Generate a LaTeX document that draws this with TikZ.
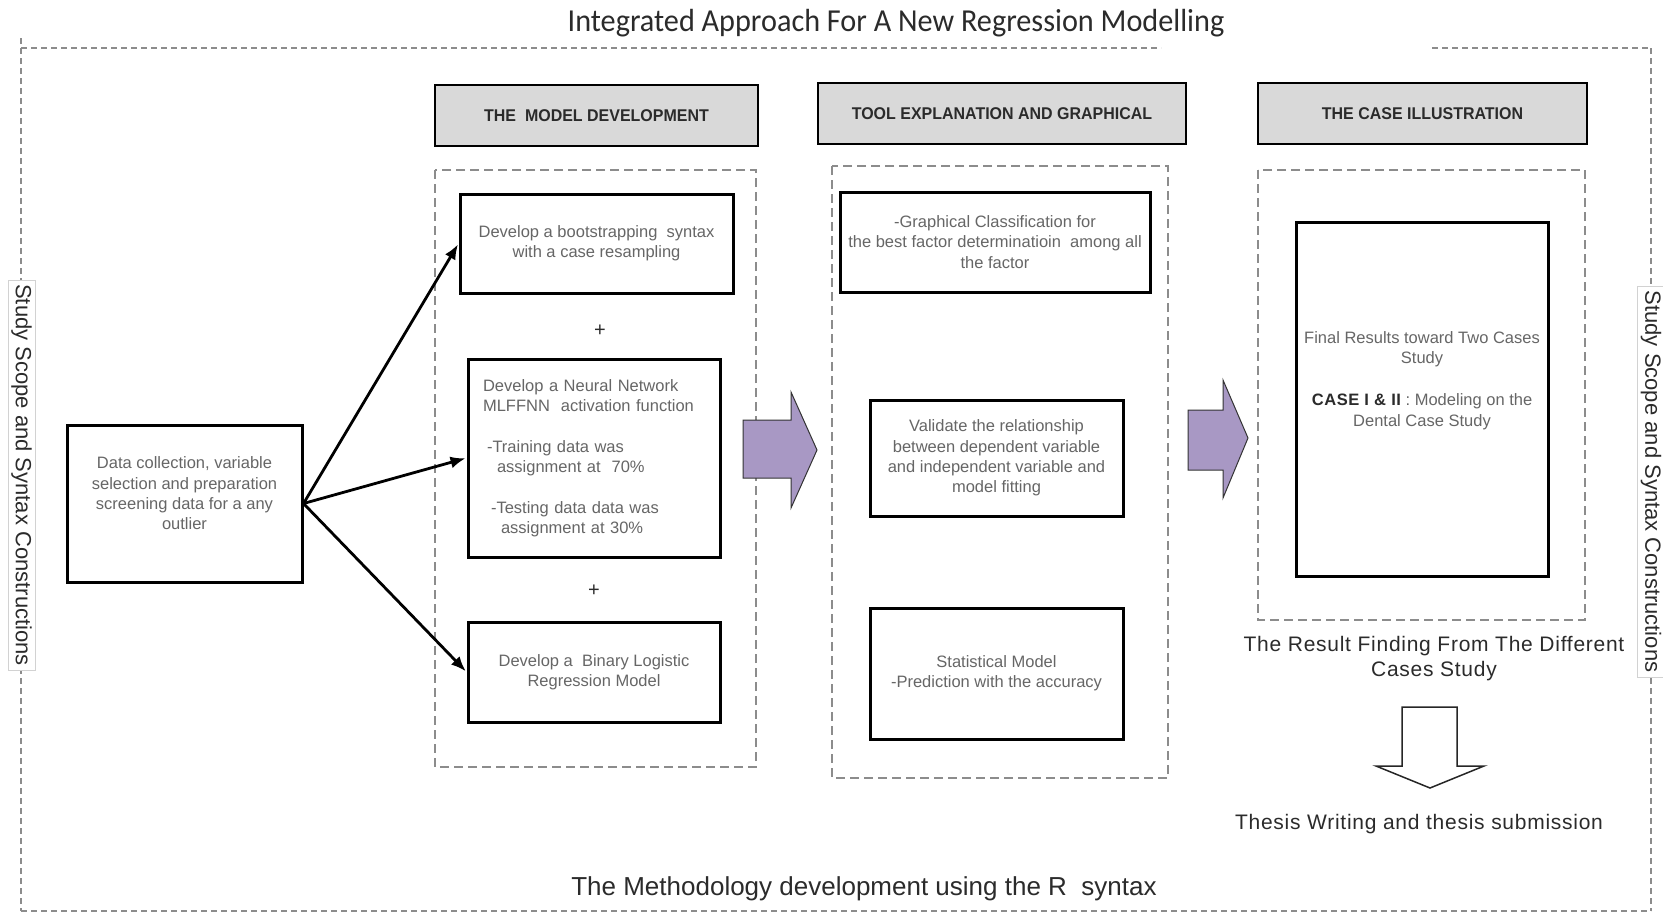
\documentclass[tikz,border=0pt]{standalone}
\usepackage{fontspec}
\setmainfont{Liberation Sans}
\newfontfamily\titlefont[FakeStretch=0.945]{Carlito}
\newfontfamily\spacedfont[LetterSpace=3.5]{Liberation Sans}
\newfontfamily\hdrfont[FakeStretch=0.94]{Liberation Sans}
\usetikzlibrary{arrows.meta}
\definecolor{boxtext}{HTML}{666666}
\definecolor{hdrfill}{HTML}{D9D9D9}
\definecolor{purplearrow}{HTML}{A898C4}
\definecolor{dashgray}{HTML}{8C8C8C}
\definecolor{darktext}{HTML}{2B2B2B}
\begin{document}
\begin{tikzpicture}[x=1pt,y=-1pt,
  hdr/.style={draw=black, line width=2.5pt, fill=hdrfill, inner sep=0pt,
    font=\hdrfont\bfseries\fontsize{17}{20}\selectfont, text=darktext},
  bx/.style={draw=black, line width=3pt, fill=white, inner sep=0pt, align=center,
    font=\fontsize{16.5}{20.3}\selectfont, text=boxtext},
  colframe/.style={draw=dashgray, line width=1.5pt, dash pattern=on 9pt off 5pt},
  outerframe/.style={draw=dashgray, line width=1.2pt, dash pattern=on 6pt off 4pt},
  sidelabel/.style={draw=gray!35, line width=0.8pt, fill=white, rotate=-90, inner sep=0pt,
    minimum height=27pt, font=\fontsize{22}{26}\selectfont, text=darktext},
  conn/.style={draw=black, line width=2.8pt, -{Latex[length=15pt,width=12pt]}, shorten >=1pt},
  bigarrow/.style={draw=black!80, line width=1pt, fill=purplearrow, line join=miter},
  capt/.style={font=\spacedfont\fontsize{21}{25}\selectfont, text=darktext, align=center},
  plussign/.style={font=\fontsize{20}{24}\selectfont, text=darktext}
]
\useasboundingbox (0,0) rectangle (1663,914);

% outer dashed frame
\draw[outerframe] (21,48) -- (1161,48);
\draw[outerframe] (1432,48) -- (1651,48);
\draw[outerframe] (21,38) -- (21,911);
\draw[outerframe] (1651,48) -- (1651,911);
\draw[outerframe] (21,911) -- (1651,911);

% title and bottom text
\node[font=\titlefont\fontsize{32}{36}\selectfont, text=darktext] (title) at (896,23) {Integrated Approach For A New Regression Modelling};
\node[font=\fontsize{26}{30}\selectfont, text=darktext] (method) at (864,889) {The Methodology development using the R\ \ syntax};

% side labels
\node[sidelabel, minimum width=390pt] (lscope) at (21.5,475) {Study Scope and Syntax Constructions};
\node[sidelabel, minimum width=391pt] (rscope) at (1651,481.5) {Study Scope and Syntax Constructions};

% headers
\node[hdr, minimum width=323pt, minimum height=61pt] (h1) at (596.5,115.5) {THE\ \ MODEL DEVELOPMENT};
\node[hdr, minimum width=368pt, minimum height=61pt] (h2) at (1002,113.5) {TOOL EXPLANATION AND GRAPHICAL};
\node[hdr, minimum width=329pt, minimum height=61pt] (h3) at (1422.5,113.5) {THE CASE ILLUSTRATION};

% column frames
\draw[colframe] (435,170) rectangle (756,767);
\draw[colframe] (832,166) rectangle (1168,778);
\draw[colframe] (1258,170) rectangle (1585,620);

% boxes
\node[bx, minimum width=235pt, minimum height=157pt] (data) at (184.5,503.5)
  {Data collection, variable\\selection and preparation\\screening data for a any\\outlier\\\rule{0pt}{14pt}};
\node[bx, minimum width=273pt, minimum height=99pt] (boot) at (596.5,243.5)
  {Develop a bootstrapping\ \ syntax\\with a case resampling};
\node[bx, minimum width=252pt, minimum height=198pt, text width=222pt, align=left] (nn) at (594,458)
  {Develop a Neural Network\\MLFFNN\ \ activation function\\[20.3pt]\hspace*{4pt}-Training data was\\\hspace*{14pt}assignment at\ \ 70\%\\[20.3pt]\hspace*{8pt}-Testing data data was\\\hspace*{18pt}assignment at 30\%};
\node[bx, minimum width=252pt, minimum height=100pt] (bin) at (594,672)
  {Develop a\ \ Binary Logistic\\Regression Model};
\node[bx, minimum width=310pt, minimum height=100pt] (graph) at (995,242)
  {-Graphical Classification for\\the best factor determinatioin\ \ among all\\the factor};
\node[bx, minimum width=253pt, minimum height=116pt] (valid) at (996.5,458)
  {Validate the relationship\\between dependent variable\\and independent variable and\\model fitting};
\node[bx, minimum width=253pt, minimum height=131pt] (stat) at (996.5,673.5)
  {Statistical Model\\-Prediction with the accuracy};
\node[bx, minimum width=252pt, minimum height=354pt] (final) at (1422,399)
  {Final Results toward Two Cases\\Study\\[21.7pt]{\spacedfont\bfseries\color{darktext}CASE I \& II} : Modeling on the\\Dental Case Study\\\rule{0pt}{36pt}};

% plus signs
\node[plussign] (plus1) at (600,331) {+};
\node[plussign] (plus2) at (594,591) {+};

% connectors
\draw[conn] (data.east) -- (boot.west);
\draw[conn] (data.east) -- (nn.west);
\draw[conn] (data.east) -- (bin.west);

% purple block arrows
\draw[bigarrow] (743,420) -- (791,420) -- (791,392) -- (817,450) -- (791,508) -- (791,478) -- (743,478) -- cycle;
\draw[bigarrow] (1188,410) -- (1223,410) -- (1223,380) -- (1248,438) -- (1223,498) -- (1223,470) -- (1188,470) -- cycle;

% result texts and down arrow
\node[capt] (result) at (1434,659) {The Result Finding From The Different\\Cases Study};
\draw[draw=black!85, line width=1.5pt, fill=white, line join=miter] (1402,707) -- (1457,707) -- (1457,766) -- (1484,766) -- (1430,788) -- (1376,766) -- (1402,766) -- cycle;
\node[capt] (thesis) at (1419,824) {Thesis Writing and thesis submission};
\end{tikzpicture}
\end{document}
